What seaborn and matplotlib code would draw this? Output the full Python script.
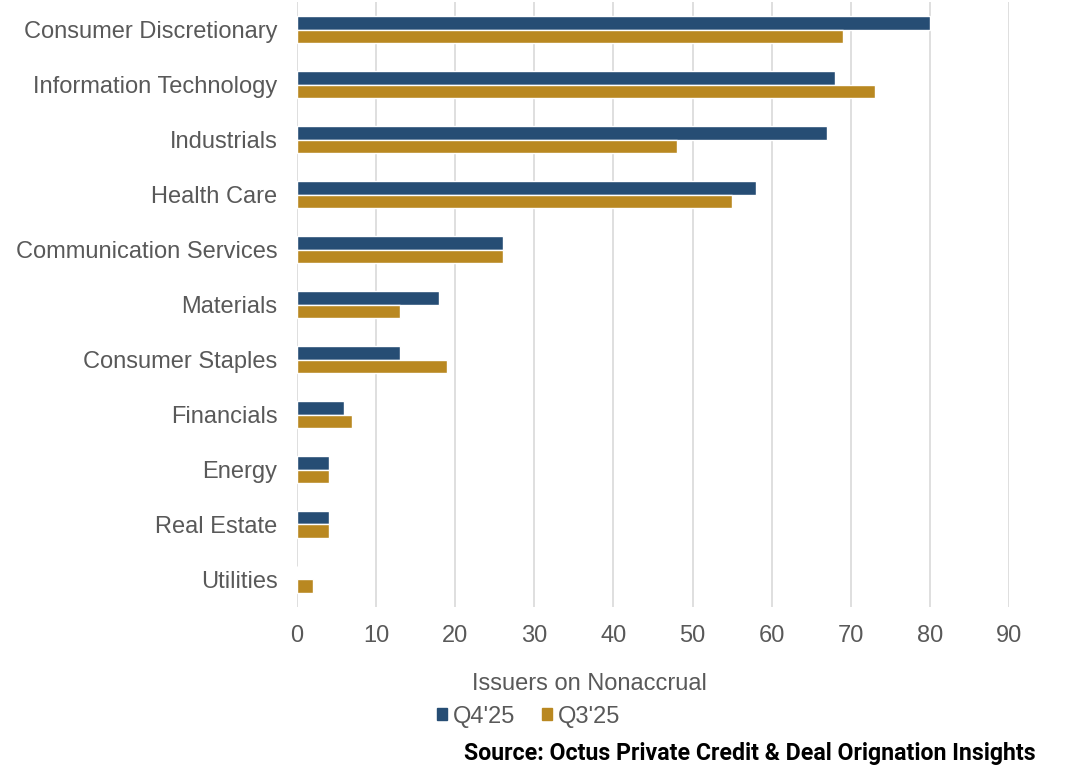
import pandas as pd
import matplotlib.pyplot as plt
import seaborn as sns

sectors = ['Consumer Discretionary', 'Information Technology', 'Industrials',
           'Health Care', 'Communication Services', 'Materials',
           'Consumer Staples', 'Financials', 'Energy', 'Real Estate', 'Utilities']
q4_25 = [80, 68, 67, 58, 26, 18, 13, 6, 4, 4, 0]
q3_25 = [69, 73, 48, 55, 26, 13, 19, 7, 4, 4, 2]
quarters = ["Q4'25", "Q3'25"]
colors = ['#264d74', '#b98821']

df = pd.DataFrame({'Sector': sectors * 2,
                   'Quarter': [quarters[0]] * len(sectors) + [quarters[1]] * len(sectors),
                   'Issuers': q4_25 + q3_25})

sns.set_style('white')
plt.rcParams['font.family'] = ['Liberation Sans', 'DejaVu Sans']
grey = '#595959'
fs = 17

fig = plt.figure(figsize=(10.81, 7.78), dpi=100)
ax = fig.add_axes([0.2747, 0.2198, 0.6587, 0.7776])

sns.barplot(data=df, y='Sector', x='Issuers', hue='Quarter', hue_order=quarters,
            palette=colors, width=0.5, orient='h', ax=ax, saturation=1,
            legend=False)

ax.set_xlim(0, 90)
ax.set_xticks(range(0, 91, 10))
ax.grid(axis='x', color='#d9d9d9', linewidth=1.2)
ax.set_axisbelow(True)
for s in ax.spines.values():
    s.set_visible(False)
ax.tick_params(axis='both', length=0, labelsize=fs, colors=grey)
ax.tick_params(axis='x', pad=13)
ax.tick_params(axis='y', pad=14)
ax.set_xlabel('')
ax.set_ylabel('')

fig.text(0.545, 0.121, 'Issuers on Nonaccrual', ha='center', va='center',
         fontsize=fs, color=grey)

handles = [plt.Rectangle((0, 0), 1, 1, color=c) for c in colors]
leg = fig.legend(handles, quarters, loc='center', bbox_to_anchor=(0.489, 0.079),
                 ncol=2, frameon=False, fontsize=fs, handlelength=0.45,
                 handleheight=0.45, handletextpad=0.25, columnspacing=1.1)
for t in leg.get_texts():
    t.set_color(grey)

fig.text(0.958, 0.032, 'Source: Octus Private Credit & Deal Orignation Insights',
         ha='right', va='center', fontsize=16.7, fontweight='bold', color='black',
         family=['Roboto', 'DejaVu Sans'])

fig.savefig('out.png', dpi=100)
